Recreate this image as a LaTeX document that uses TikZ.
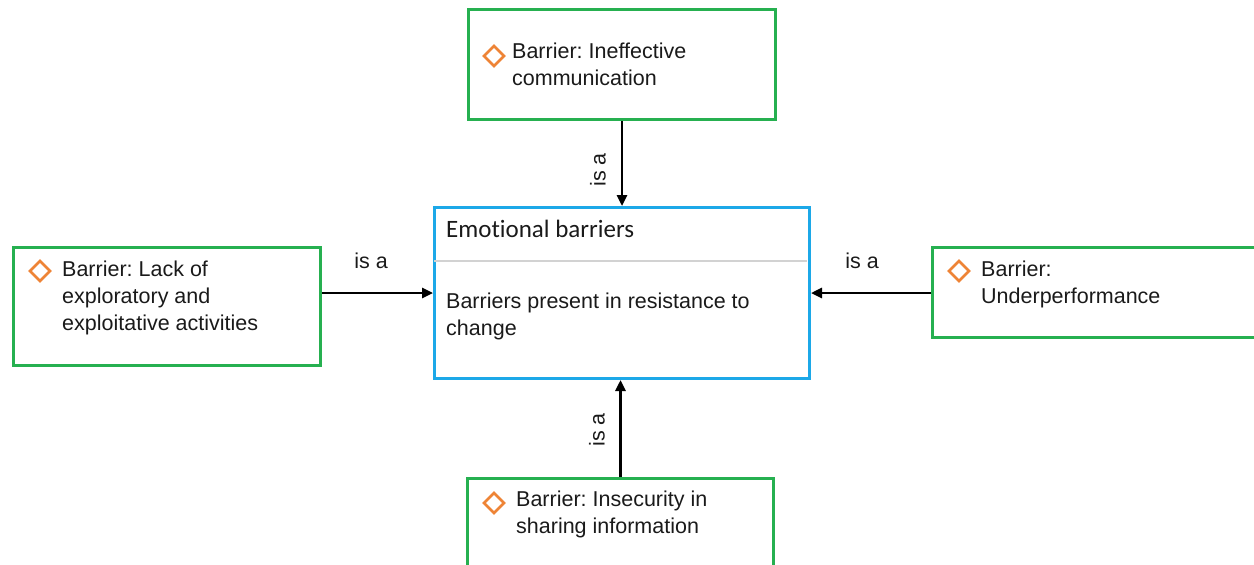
\documentclass[tikz,border=0pt]{standalone}
\usepackage{fontspec}
\setmainfont{Liberation Sans}
\newfontfamily\titlefont[Ligatures={NoCommon}]{Carlito}
\usetikzlibrary{shapes.geometric,arrows.meta,calc}
\definecolor{boxgreen}{RGB}{38,176,80}
\definecolor{boxblue}{RGB}{28,168,232}
\definecolor{marker}{RGB}{238,132,54}
\definecolor{rule}{RGB}{210,210,210}
\definecolor{ink}{RGB}{26,26,26}
\frenchspacing
\begin{document}
\begin{tikzpicture}[x=1pt,y=-1pt,
  barrier/.style={draw=boxgreen, line width=3pt, inner sep=0pt, anchor=north west},
  concept/.style={draw=boxblue, line width=3pt, inner sep=0pt, anchor=north west},
  marker/.style={diamond, draw=marker, line width=2.6pt, minimum width=21pt, minimum height=21pt, inner sep=0pt},
  txt/.style={anchor=base west, inner sep=0pt, align=left, text=ink, font=\fontsize{21.5}{27}\selectfont},
  relation/.style={text=ink, inner sep=0pt, font=\fontsize{21.5}{26}\selectfont},
  isa/.style={-{Triangle[width=10pt,length=11pt]}, line width=2.6pt, draw=black}
]
\useasboundingbox (0,0) rectangle (1254,565);

% central concept; the text nodes are anchored at the baseline of their last line
\node[concept, minimum width=375pt, minimum height=171pt] (center) at (433,206) {};
\draw[rule, line width=1.4pt] (434,261) -- (807,261);
\node[anchor=base west, inner sep=0pt, text=ink, font=\titlefont\fontsize{25}{30}\selectfont] (ctitle) at (446,237) {Emotional barriers};
\node[txt] (cbody) at (446,335) {Barriers present in resistance to\\change};

% barrier boxes
\node[barrier, minimum width=307pt, minimum height=110pt] (top) at (467,8) {};
\node[marker] (mtop) at (494,56) {};
\node[txt] (ttop) at (512,85) {Barrier: Ineffective\\communication};

\node[barrier, minimum width=307pt, minimum height=118pt] (left) at (12,246) {};
\node[marker] (mleft) at (40,271) {};
\node[txt] (tleft) at (62,330) {Barrier: Lack of\\exploratory and\\exploitative activities};

\node[barrier, minimum width=330pt, minimum height=90pt] (right) at (931,246) {};
\node[marker] (mright) at (959,271) {};
\node[txt] (tright) at (981,303) {Barrier:\\Underperformance};

\node[barrier, minimum width=306pt, minimum height=100pt] (bottom) at (466,477) {};
\node[marker] (mbottom) at (494,503) {};
\node[txt] (tbottom) at (516,533) {Barrier: Insecurity in\\sharing information};

% "is a" relations
\draw[isa] (top.south) -- (center.north);
\node[relation, rotate=90] (ltop) at (598,170) {is a};

\draw[isa] (left.east |- center.west) -- (center.west);
\node[relation, anchor=base] (lleft) at (371,268) {is a};

\draw[isa] (right.west |- center.east) -- (center.east);
\node[relation, anchor=base] (lright) at (862,268) {is a};

\draw[isa] (bottom.north) -- (bottom.north |- center.south);
\node[relation, rotate=90] (lbottom) at (597,430) {is a};
\end{tikzpicture}
\end{document}
